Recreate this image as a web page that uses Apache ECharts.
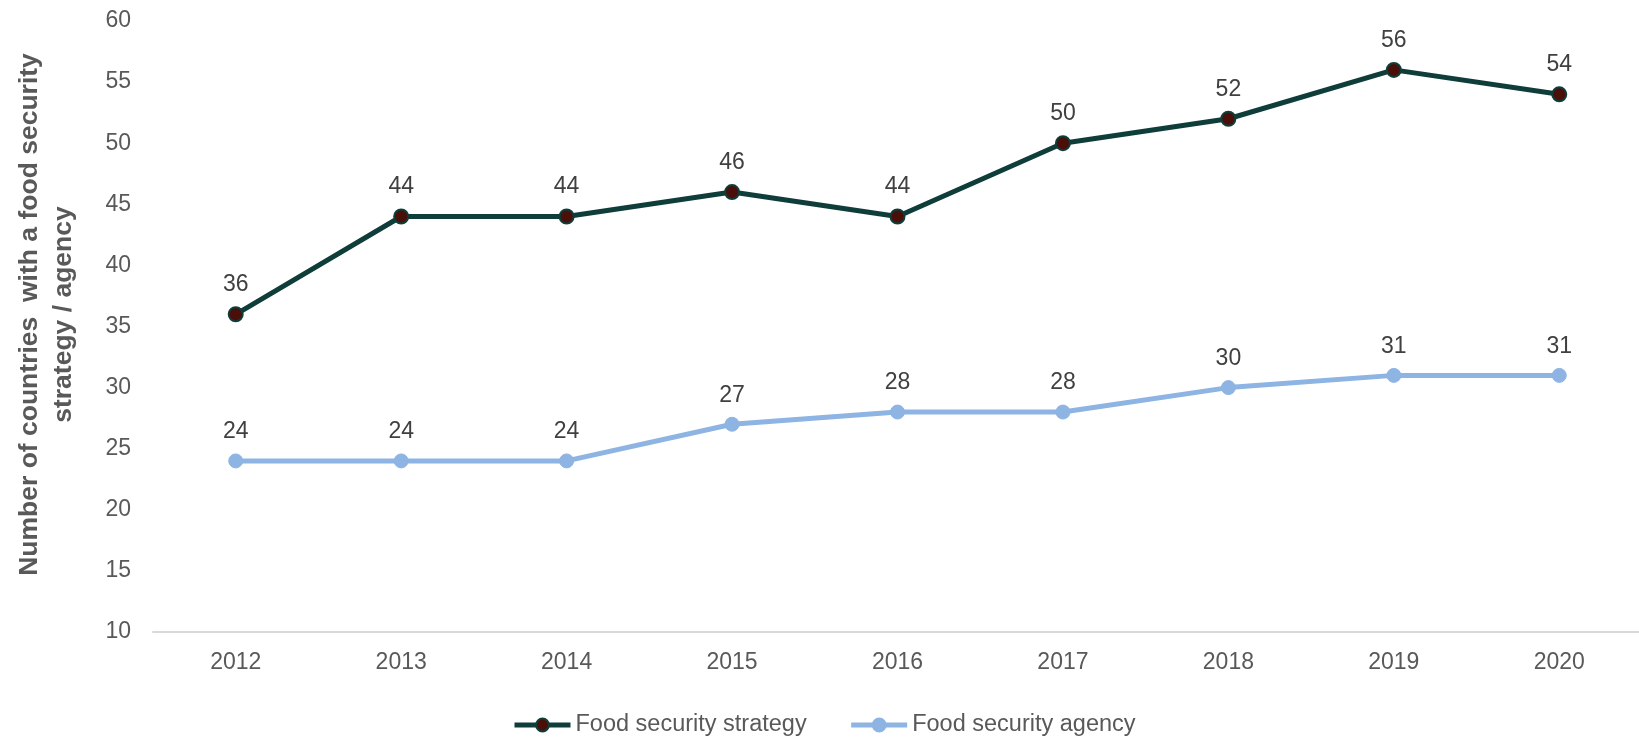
<!DOCTYPE html>
<html>
<head>
<meta charset="utf-8">
<script src="https://cdn.jsdelivr.net/npm/echarts@6/dist/echarts.min.js"></script>
<style>
  html, body { margin: 0; padding: 0; background: #fff; }
  #chart { width: 1639px; height: 737px; }
</style>
</head>
<body>
<div id="chart"></div>
<script>
var years = ["2012", "2013", "2014", "2015", "2016", "2017", "2018", "2019", "2020"];
var strategy = [36, 44, 44, 46, 44, 50, 52, 56, 54];
var agency = [24, 24, 24, 27, 28, 28, 30, 31, 31];

var font = "Liberation Sans, Arial, sans-serif";
var myChart = echarts.init(document.getElementById("chart"));
var option = {
  animation: false,
  textStyle: { fontFamily: font },
  grid: {
    left: 153,
    right: -3,
    top: 21,
    bottom: 105,
    containLabel: false,
    outerBoundsMode: "none"
  },
  legend: {
    left: 507,
    top: 708,
    itemWidth: 56,
    itemHeight: 16,
    itemGap: 42,
    lineStyle: { width: 5 },
    textStyle: {
      color: "#595959",
      fontSize: 23.5,
      fontFamily: font
    },
    data: ["Food security strategy", "Food security agency"]
  },
  xAxis: {
    type: "category",
    data: years,
    axisTick: { show: false },
    axisLine: {
      lineStyle: { color: "#d9d9d9", width: 2 }
    },
    axisLabel: {
      color: "#595959",
      fontSize: 23,
      margin: 19
    }
  },
  yAxis: {
    type: "value",
    min: 10,
    max: 60,
    interval: 5,
    name: "Number of countries  with a food security\nstrategy / agency",
    nameLocation: "middle",
    nameGap: 72,
    nameTextStyle: {
      color: "#595959",
      fontSize: 26.5,
      fontWeight: "bold",
      lineHeight: 34,
      padding: [0, 0, 0, 24]
    },
    splitLine: { show: false },
    axisLine: { show: false },
    axisTick: { show: false },
    axisLabel: {
      color: "#595959",
      fontSize: 23,
      margin: 22
    }
  },
  series: [
    {
      name: "Food security strategy",
      type: "line",
      data: strategy,
      symbol: "circle",
      symbolSize: 14,
      lineStyle: { color: "#0f3d3a", width: 5 },
      itemStyle: { color: "#4a0f08", borderColor: "#0f3d3a", borderWidth: 2 },
      label: {
        show: true,
        position: "top",
        distance: 10,
        color: "#404040",
        fontSize: 23
      }
    },
    {
      name: "Food security agency",
      type: "line",
      data: agency,
      symbol: "circle",
      symbolSize: 14,
      lineStyle: { color: "#8db4e2", width: 5 },
      itemStyle: { color: "#8db4e2", borderColor: "#8db4e2", borderWidth: 1 },
      label: {
        show: true,
        position: "top",
        distance: 10,
        color: "#404040",
        fontSize: 23
      }
    }
  ]
};
myChart.setOption(option);
</script>
</body>
</html>
